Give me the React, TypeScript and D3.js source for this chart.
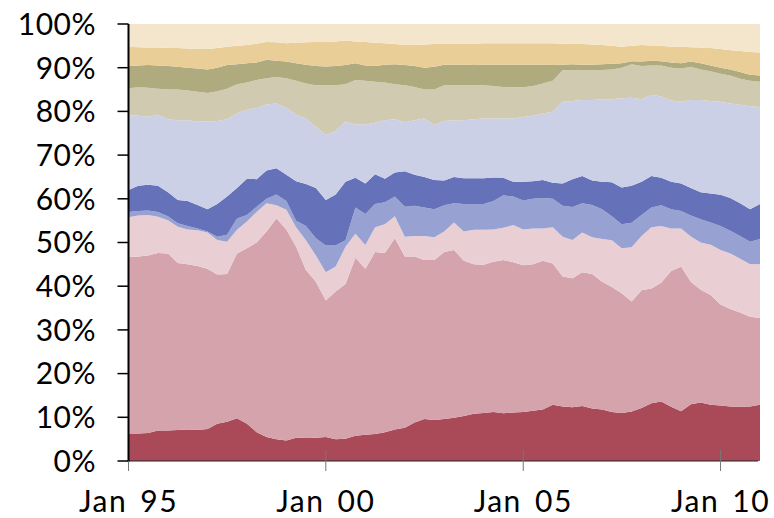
import React from "react";
import * as d3 from "d3";

// quarterly observations, Jan 1995 .. Jan 2011
const startYear = 1995;
const quarters = d3.range(65).map((i) => new Date(Date.UTC(startYear + Math.floor(i / 4), (i % 4) * 3, 1)));

// upper edge of each band in the 100% stack (percent)
const edge1 = [6.3, 6.3, 6.4, 7.0, 7.0, 7.1, 7.2, 7.1, 7.3, 8.5, 9.0, 9.8, 8.5, 6.6, 5.5, 5.0, 4.7, 5.3, 5.4, 5.3, 5.5, 5.0, 5.1, 5.8, 6.0, 6.2, 6.6, 7.2, 7.6, 8.8, 9.6, 9.4, 9.6, 9.9, 10.3, 10.8, 11.0, 11.2, 10.9, 11.1, 11.2, 11.5, 11.8, 12.9, 12.5, 12.3, 12.6, 12.0, 11.8, 11.2, 11.0, 11.3, 12.1, 13.2, 13.6, 12.4, 11.4, 13.0, 13.4, 12.9, 12.7, 12.5, 12.4, 12.5, 12.9];
const edge2 = [46.7, 46.8, 47.0, 47.6, 47.5, 45.3, 45.0, 44.6, 44.0, 42.7, 42.8, 47.5, 48.7, 50.0, 52.5, 55.5, 53.0, 49.0, 43.7, 41.0, 36.7, 38.8, 40.5, 46.5, 44.0, 47.8, 47.6, 51.0, 46.8, 46.8, 46.0, 46.0, 47.8, 48.3, 45.8, 45.0, 44.9, 45.6, 46.0, 45.5, 44.8, 45.0, 45.8, 45.2, 42.2, 41.8, 43.2, 42.8, 41.0, 39.8, 38.4, 36.5, 39.1, 39.5, 40.8, 43.5, 44.5, 41.0, 39.2, 38.0, 35.8, 34.8, 34.0, 33.0, 32.7];
const edge3 = [55.8, 56.2, 56.3, 55.9, 55.1, 53.6, 53.0, 52.8, 52.3, 50.6, 50.2, 52.9, 54.8, 57.0, 59.0, 58.5, 57.5, 53.5, 50.5, 47.0, 43.2, 44.5, 49.0, 52.0, 49.4, 53.5, 54.2, 56.0, 51.3, 51.5, 51.5, 51.2, 52.5, 54.6, 52.5, 52.9, 52.9, 53.0, 53.4, 54.0, 53.0, 53.2, 53.2, 53.5, 51.3, 50.6, 52.3, 51.2, 50.8, 50.5, 48.7, 48.9, 51.5, 53.5, 53.8, 53.2, 53.2, 51.4, 50.0, 49.5, 48.3, 47.5, 46.3, 45.0, 45.1];
const edge4 = [57.0, 57.2, 57.3, 57.0, 56.0, 54.4, 53.8, 53.2, 52.5, 51.3, 51.8, 55.5, 56.3, 58.2, 60.0, 61.0, 59.5, 55.0, 53.8, 51.0, 49.3, 49.3, 50.5, 58.0, 56.5, 58.8, 59.2, 60.5, 58.2, 58.4, 58.0, 57.6, 58.5, 59.0, 58.8, 58.8, 58.8, 59.5, 60.8, 60.5, 59.6, 60.0, 60.2, 60.0, 58.4, 58.1, 59.0, 58.6, 57.6, 56.0, 54.2, 54.5, 56.3, 58.0, 58.5, 57.6, 57.2, 56.2, 55.3, 54.6, 53.8, 52.7, 51.5, 50.2, 50.8];
const edge5 = [62.0, 63.0, 63.2, 63.0, 61.5, 59.7, 59.5, 58.6, 57.6, 58.8, 60.5, 62.5, 64.6, 64.5, 66.5, 67.0, 65.5, 64.0, 63.4, 62.5, 59.7, 61.0, 63.9, 64.8, 63.5, 65.6, 64.6, 66.0, 66.3, 65.5, 65.0, 64.3, 64.2, 65.0, 64.7, 64.7, 64.7, 64.9, 64.8, 63.9, 63.9, 64.0, 64.3, 63.7, 63.5, 64.5, 65.2, 64.2, 63.9, 63.8, 62.6, 63.0, 63.9, 65.2, 64.8, 63.9, 63.5, 62.5, 61.5, 61.2, 60.9, 60.2, 59.0, 57.6, 58.8];
const edge6 = [79.2, 79.0, 78.8, 79.2, 78.2, 78.0, 78.0, 77.7, 77.7, 77.8, 78.2, 79.6, 80.3, 80.8, 81.6, 81.8, 80.8, 79.3, 78.4, 76.5, 74.6, 75.5, 77.7, 77.0, 77.0, 77.4, 78.0, 78.2, 77.5, 78.0, 78.4, 76.9, 77.8, 78.0, 78.0, 78.2, 78.4, 78.4, 78.4, 78.4, 78.7, 79.0, 79.5, 79.9, 82.2, 82.4, 82.6, 82.6, 82.8, 82.8, 83.0, 83.1, 82.8, 83.8, 83.4, 82.5, 82.2, 82.6, 82.6, 82.4, 82.2, 81.8, 81.5, 81.2, 81.0];
const edge7 = [85.3, 85.5, 85.4, 85.2, 85.0, 85.0, 84.8, 84.5, 84.2, 84.6, 85.2, 86.2, 86.6, 87.2, 87.6, 87.9, 87.6, 87.0, 86.4, 86.0, 86.0, 86.0, 86.2, 87.2, 87.0, 86.8, 86.6, 86.2, 86.0, 85.6, 85.0, 85.0, 86.0, 86.0, 86.0, 86.0, 86.0, 85.8, 85.6, 85.5, 85.5, 85.8, 86.4, 87.0, 89.4, 89.5, 89.5, 89.5, 89.5, 89.6, 90.0, 90.8, 90.4, 90.5, 90.5, 90.0, 89.8, 90.2, 89.6, 89.2, 88.6, 88.2, 87.5, 87.0, 86.8];
const edge8 = [90.4, 90.5, 90.6, 90.5, 90.4, 90.2, 90.0, 89.8, 89.6, 90.0, 90.6, 90.8, 91.0, 91.2, 91.8, 91.6, 91.4, 91.0, 90.7, 90.4, 90.3, 90.4, 90.6, 91.0, 90.5, 90.4, 90.7, 90.8, 90.6, 90.4, 90.0, 90.2, 90.7, 90.7, 90.7, 90.6, 90.7, 90.7, 90.7, 90.7, 90.7, 90.7, 90.7, 90.6, 90.7, 90.8, 90.7, 90.7, 90.8, 90.9, 91.0, 91.5, 91.4, 91.6, 91.5, 91.2, 91.0, 91.4, 91.0, 90.5, 90.0, 89.6, 89.0, 88.4, 88.2];
const edge9 = [94.8, 94.7, 94.6, 94.6, 94.5, 94.5, 94.4, 94.3, 94.3, 94.5, 94.8, 95.0, 95.2, 95.5, 95.9, 95.8, 95.6, 95.7, 95.8, 95.9, 95.9, 96.0, 96.2, 96.0, 95.9, 95.7, 95.6, 95.4, 95.2, 95.2, 95.3, 95.4, 95.4, 95.4, 95.4, 95.5, 95.6, 95.6, 95.6, 95.6, 95.6, 95.6, 95.6, 95.6, 95.5, 95.4, 95.4, 95.3, 95.2, 95.0, 94.8, 95.0, 95.2, 95.1, 95.0, 94.8, 94.8, 94.7, 94.6, 94.5, 94.3, 94.0, 93.8, 93.6, 93.5];

const edges = [edge1, edge2, edge3, edge4, edge5, edge6, edge7, edge8, edge9];
const seriesKeys = ["s1", "s2", "s3", "s4", "s5", "s6", "s7", "s8", "s9", "s10"];
const colors = ["#aa4a58", "#d5a3ac", "#e9cfd4", "#98a2d2", "#6571b8", "#cbd0e6", "#d0cbb0", "#b0aa7f", "#e9ce98", "#f4e6cc"];

const yTicks = [0, 10, 20, 30, 40, 50, 60, 70, 80, 90, 100];
const xTicks = [1995, 2000, 2005, 2010].map((y) => new Date(Date.UTC(y, 0, 1)));

// share of each band, from the band edges
const rows = quarters.map((date, i) => {
  const row: any = { date };
  let prev = 0;
  seriesKeys.forEach((k, j) => {
    const top = j < edges.length ? edges[j][i] : 100;
    row[k] = top - prev;
    prev = top;
  });
  return row;
});

const W = 774;
const H = 518;
const left = 128.5;
const right = 760;
const top = 24;
const bottom = 461;
const font = "Lato, 'Noto Sans', sans-serif";

export default function App() {
  const x = d3.scaleUtc().domain([quarters[0], quarters[quarters.length - 1]]).range([left, right]);
  const y = d3.scaleLinear().domain([0, 100]).range([bottom, top]);
  const stack = d3.stack().keys(seriesKeys)(rows);
  const area = d3
    .area<any>()
    .x((d) => x(d.data.date))
    .y0((d) => y(d[0]))
    .y1((d) => y(d[1]));
  const fmt = d3.utcFormat("Jan %y");

  return (
    <svg width={W} height={H} style={{ position: "absolute", left: 0, top: 0 }} fontFamily={font}>
      <g>
        {stack.map((s, i) => (
          <path key={s.key} d={area(s) || ""} fill={colors[i]} />
        ))}
      </g>
      {/* y axis */}
      <g>
        <line x1={left} x2={left} y1={top} y2={bottom + 1} stroke="#000" strokeWidth={2} />
        {yTicks.map((t) => (
          <g key={t} transform={`translate(0,${y(t)})`}>
            <line x1={left - 11} x2={left} stroke="#000" strokeWidth={1.5} />
            <text x={96} dy="0.36em" textAnchor="end" fontSize={30} letterSpacing={0.5} fill="#000">
              {t}%
            </text>
          </g>
        ))}
      </g>
      {/* x axis */}
      <g>
        <line x1={left} x2={right - 2} y1={bottom} y2={bottom} stroke="#222" strokeWidth={1} />
        {xTicks.map((t) => (
          <g key={+t} transform={`translate(${x(t)},0)`}>
            <line y1={t.getUTCFullYear() === 1995 ? bottom : bottom - 11} y2={bottom + 10} stroke="#777" strokeWidth={1} />
            <text y={512} textAnchor="middle" fontSize={30} letterSpacing={1.5} wordSpacing={4} fill="#000">
              {fmt(t)}
            </text>
          </g>
        ))}
      </g>
    </svg>
  );
}
